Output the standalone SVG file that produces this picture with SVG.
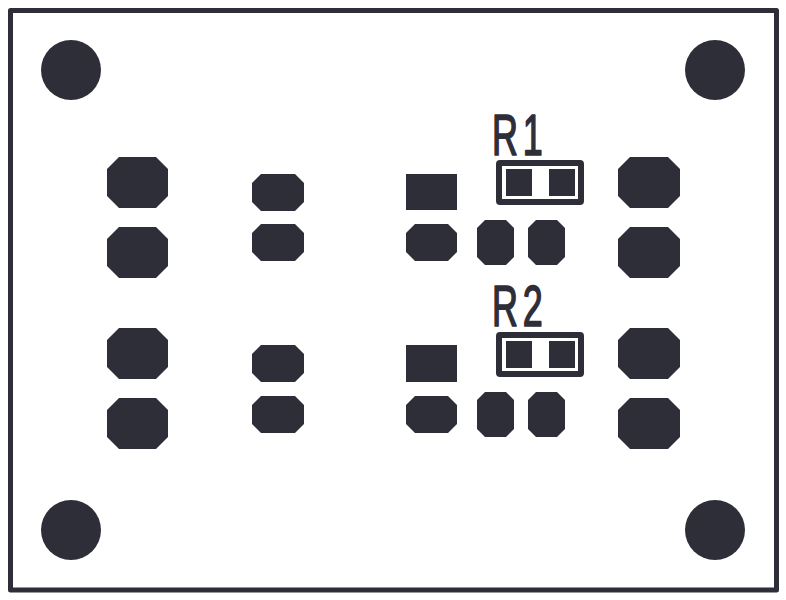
<svg xmlns="http://www.w3.org/2000/svg" width="786" height="600" viewBox="0 0 786 600">
<style>
.k{fill:#2e2e38}
.o{fill:none;stroke:#2e2e38;stroke-linejoin:round}
.t{font-family:"Liberation Sans",Arial,sans-serif;font-size:57px;letter-spacing:7.500px;fill:#2e2e38;stroke:#2e2e38;stroke-width:1.700px;stroke-linejoin:round}
</style>
<defs>
<polygon id="big" class="k" points="12,0 50,0 62,12 62,39 50,51 12,51 0,39 0,12"/>
<polygon id="bigl" class="k" points="12,0 49,0 61,12 61,39 49,51 12,51 0,39 0,12"/>
<polygon id="small" class="k" points="9,0 43,0 52,9 52,28 43,37 9,37 0,28 0,9"/>
<polygon id="vert" class="k" points="8,0 29,0 37,8 37,37 29,45 8,45 0,37 0,8"/>
<g id="res"><rect class="o" x="499" y="0" width="82" height="39" rx="1" stroke-width="6"/><rect class="k" x="506" y="6" width="26" height="27"/><rect class="k" x="549" y="6" width="26" height="27"/></g>
</defs>
<rect width="786" height="600" fill="#fff"/>
<g id="board"><rect class="o" x="10.500" y="10.500" width="766" height="579.500" stroke-width="5"/></g>
<g id="hole1"><circle class="k" cx="71" cy="70" r="30"/></g>
<g id="hole2"><circle class="k" cx="715" cy="70" r="30"/></g>
<g id="hole3"><circle class="k" cx="71" cy="530" r="30"/></g>
<g id="hole4"><circle class="k" cx="715" cy="530" r="30"/></g>
<g id="pads-left"><use href="#bigl" x="107" y="157"/><use href="#bigl" x="107" y="227"/><use href="#bigl" x="107" y="328"/><use href="#bigl" x="107" y="398"/></g>
<g id="pads-right"><use href="#big" x="618" y="157"/><use href="#big" x="618" y="227"/><use href="#big" x="618" y="328"/><use href="#big" x="618" y="398"/></g>
<g id="pads-mid"><use href="#small" x="252" y="174"/><use href="#small" x="252" y="224"/><use href="#small" x="252" y="345"/><use href="#small" x="252" y="396"/></g>
<g id="u1"><rect class="k" x="406" y="174" width="51" height="36"/><polygon class="k" points="415,224 448,224 457,233 457,252 448,261 415,261 406,252 406,233"/><use href="#vert" x="477" y="220"/><use href="#vert" x="528" y="220"/></g>
<g id="u2"><rect class="k" x="406" y="345" width="51" height="37"/><polygon class="k" points="415,396 448,396 457,405 457,424 448,433 415,433 406,424 406,405"/><use href="#vert" x="477" y="392"/><use href="#vert" x="528" y="392"/></g>
<g id="R1"><use href="#res" y="163"/><text class="t" transform="translate(492,155) scale(.63,1)">R1</text></g>
<g id="R2"><use href="#res" y="335"/><text class="t" transform="translate(492,326) scale(.63,1)">R2</text></g>
</svg>
